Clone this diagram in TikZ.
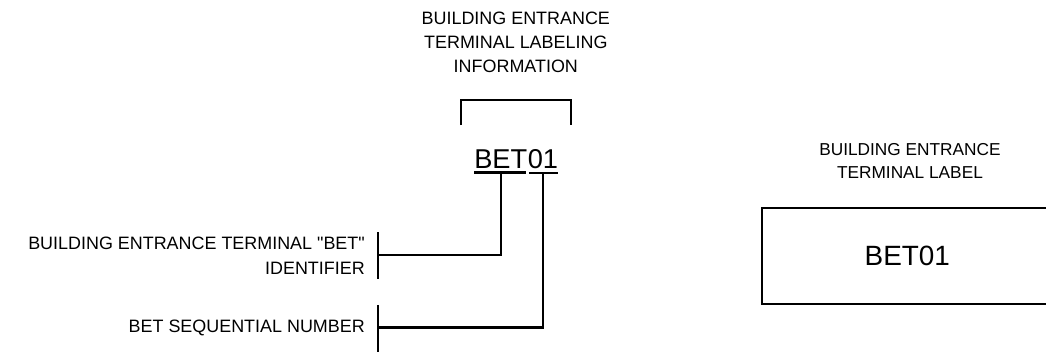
\documentclass[tikz,border=0pt]{standalone}
\usepackage{fontspec}
\setmainfont{Liberation Sans}
\usetikzlibrary{positioning}

\begin{document}
\begin{tikzpicture}[
    caption/.style={font=\fontsize{13.5}{18}\selectfont, align=center, inner sep=0pt},
    note/.style={font=\fontsize{13.5}{18.7}\selectfont, align=right, inner sep=0pt},
    code/.style={font=\fontsize{20.5}{24}\selectfont, inner sep=0pt},
    ln/.style={line width=1.8pt}]

% Page frame
\clip (0,0) rectangle (27.68,9.42);

% ════════════════════════════════════════
%  LEFT: labeling information
% ════════════════════════════════════════

\node[caption] (info) at (13.65, 8.31)
    {BUILDING ENTRANCE\\TERMINAL LABELING\\INFORMATION};

% Bracket
\draw[ln] (12.20, 6.11) |- (15.11, 6.77) -- (15.11, 6.11);

% Code, split in two parts
\node[code, anchor=base east] (betpre) at (13.96, 4.95) {BET};
\node[code, anchor=base west] (betnum) at (betpre.base east) {01};

% Underlines
\draw[ln] ([yshift=-2.5pt]betpre.south west) -- ([xshift=-1pt, yshift=-2.5pt]betpre.south east);
\draw[ln] ([xshift=1pt, yshift=-2.5pt]betnum.south west) -- ([yshift=-2.5pt]betnum.south east);

% Bars
\coordinate (idtop) at (10.00, 3.28);
\coordinate (idbar) at (10.00, 2.67);
\coordinate (idbot) at (10.00, 2.04);
\coordinate (seqtop) at (10.00, 1.35);
\coordinate (seqbar) at (10.00, 0.75);
\coordinate (seqbot) at (10.00, 0.11);
\draw[ln] (idtop) -- (idbot);
\draw[ln] (seqtop) -- (seqbot);

% Part names
\node[note, anchor=east] (idname) at (9.66, 2.66)
    {BUILDING ENTRANCE TERMINAL \textquotedbl BET\textquotedbl\\IDENTIFIER};
\node[note, anchor=east] (seqname) at (9.66, 0.74) {BET SEQUENTIAL NUMBER};

% Leads
\draw[ln] ([yshift=-2.5pt]betpre.south) |- (idbar);
\draw[ln] ([yshift=-2.5pt]betnum.south) |- (seqbar);

% ════════════════════════════════════════
%  RIGHT: the label
% ════════════════════════════════════════

\node[caption, font=\fontsize{13}{17.3}\selectfont] (labelname) at (24.08, 5.15)
    {BUILDING ENTRANCE\\TERMINAL LABEL};

\node[ln, draw, minimum width=7.7cm, minimum height=2.54cm,
      font=\fontsize{21}{24}\selectfont] (labelbox) at (24.01, 2.65) {BET01};

\end{tikzpicture}
\end{document}
